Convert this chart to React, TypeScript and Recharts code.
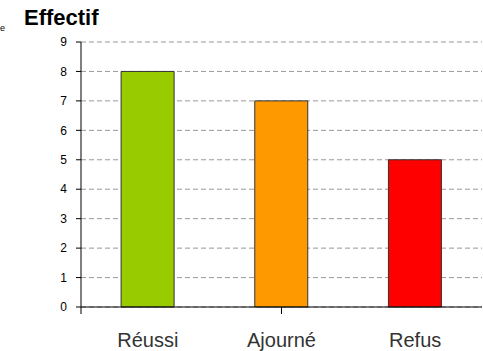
import React from 'react';
import { BarChart, Bar, XAxis, YAxis, CartesianGrid, Cell } from 'recharts';

const categories = ['Réussi', 'Ajourné', 'Refus'];
const effectifs = [8, 7, 5];
const barColors = ['#99CC00', '#FF9900', '#FF0000'];
const yTicks = [0, 1, 2, 3, 4, 5, 6, 7, 8, 9];
const boundaryTicks = [0, 1, 2, 3];

const data = categories.map((name, i) => ({ name, effectif: effectifs[i] }));

const font = '"Liberation Sans", Arial, sans-serif';

// only the tick marks of this axis are wanted, not its labels
const NoLabel = () => <g />;

const App = () => {
  return (
    <div style={{ position: 'absolute', left: 0, top: 0, width: 483, height: 351, background: '#fff', fontFamily: font, overflow: 'hidden' }}>
      <div style={{ position: 'absolute', left: 0, top: 24, fontSize: 9, lineHeight: 1, color: '#000' }}>e</div>
      <div style={{ position: 'absolute', left: 24, top: 7, fontSize: 22, lineHeight: 1, fontWeight: 'bold', color: '#000' }}>
        Effectif
      </div>
      <BarChart
        width={483}
        height={351}
        data={data}
        margin={{ top: 42, right: 1, bottom: 0, left: 41 }}
        barCategoryGap="30%"
      >
        <CartesianGrid horizontal vertical={false} stroke="#999" strokeDasharray="5 3" />
        <XAxis
          xAxisId="bounds"
          type="number"
          domain={[0, 3]}
          ticks={boundaryTicks}
          tick={NoLabel}
          height={1}
          stroke="#000"
          tickSize={7}
          allowDataOverflow
        />
        <XAxis
          xAxisId="cat"
          dataKey="name"
          axisLine={false}
          tickLine={false}
          tickSize={0}
          tickMargin={25}
          height={43}
          tick={{ fill: '#333', fontSize: 20, fontFamily: font }}
        />
        <YAxis
          domain={[0, 9]}
          ticks={yTicks}
          width={40}
          stroke="#000"
          tickSize={5}
          tickMargin={9}
          tick={{ fill: '#000', fontSize: 12, fontFamily: font }}
          interval={0}
        />
        <Bar xAxisId="cat" dataKey="effectif" stroke="#333" strokeWidth={1} isAnimationActive={false}>
          {data.map((d, i) => (
            <Cell key={d.name} fill={barColors[i]} />
          ))}
        </Bar>
      </BarChart>
    </div>
  );
};

export default App;
